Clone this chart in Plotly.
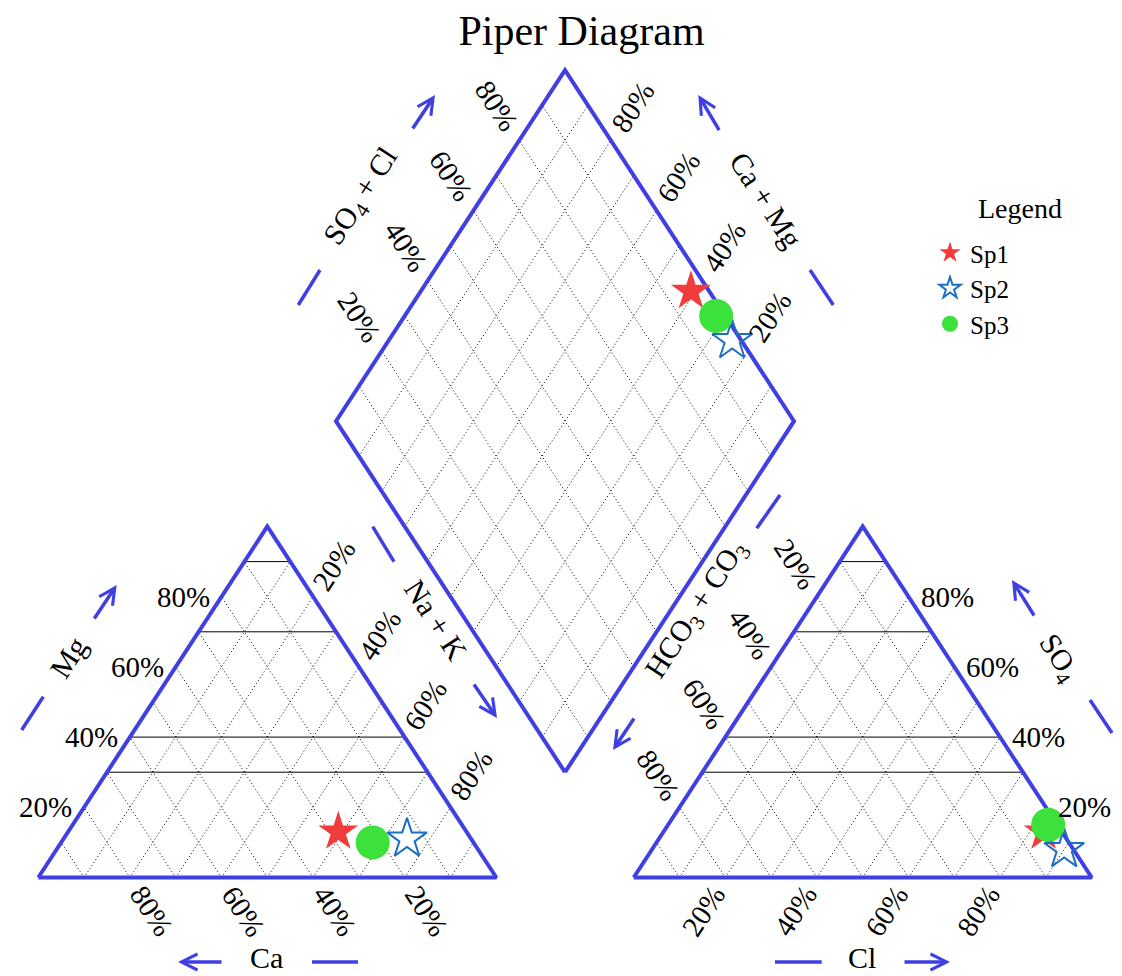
import math
import plotly.graph_objects as go

# ---------------- data (percent of meq) ----------------
samples = ["Sp1", "Sp2", "Sp3"]
ca = [28, 14, 22]
mg = [13, 11, 10]
na_k = [59, 75, 68]
hco3_co3 = [4, 2, 2]
so4 = [13, 8, 15]
cl = [83, 90, 83]

tick_values = [20, 40, 60, 80]
tick_labels = ["20%", "40%", "60%", "80%"]
grid_steps = [10, 20, 30, 40, 50, 60, 70, 80, 90]
solid_levels = [30, 40, 70, 90]

# ---------------- styles ----------------
marker_symbols = ["star", "star-open", "circle"]
marker_colors = ["#f03c3c", "#1c6fc3", "#3ce13c"]
marker_sizes = [30, 30, 34]
EDGE = "#3f3fe3"
FONT = "Liberation Serif"

# ---------------- geometry ----------------
W, H = 1122, 976
X0, SX = 38.3, 458.0      # pixel of x=0, pixels per unit
Y0, SY = 877.5, 405.3     # pixel of y=0, pixels per unit
h = math.sqrt(3) / 2
g = 0.3                   # gap between triangles
OX_A = 1 + g              # anion triangle origin
BX, BY = 1 + g / 2, g * h  # diamond bottom vertex

ddx, ddy = 0.5 * SX, h * SY
dl = math.hypot(ddx, ddy)
ux, uy = ddx / dl, ddy / dl
ANG = math.degrees(math.atan2(ddy, ddx))


def px(xp, yp):
    return xp / W, 1 - yp / H


def cation_xy(c, m, n):
    t = c + m + n
    return n / t + 0.5 * m / t, h * m / t


def anion_xy(hc, s, c):
    t = hc + s + c
    return OX_A + c / t + 0.5 * s / t, h * s / t


def diamond_xy(camg, so4cl):
    return BX + 0.5 * (so4cl - camg), BY + h * (camg + so4cl)


fig = go.Figure()

# ---------------- grid lines ----------------
gx, gy = [], []
for ox in (0.0, OX_A):
    for st in grid_steps:
        f = st / 100
        gx += [ox + f, ox + f + 0.5 * (1 - f), None]
        gy += [0, h * (1 - f), None]
        gx += [ox + f, ox + f / 2, None]
        gy += [0, h * f, None]
for st in grid_steps:
    f = st / 100
    sx0, sy0 = diamond_xy(f, 0)
    sx1, sy1 = diamond_xy(f, 1)
    gx += [sx0, sx1, None]
    gy += [sy0, sy1, None]
    sx0, sy0 = diamond_xy(0, f)
    sx1, sy1 = diamond_xy(1, f)
    gx += [sx0, sx1, None]
    gy += [sy0, sy1, None]
fig.add_trace(go.Scatter(x=gx, y=gy, mode="lines", hoverinfo="skip", showlegend=False,
                         line=dict(color="black", width=1, dash="1px,2.5px")))

hx, hy = [], []
for ox in (0.0, OX_A):
    for lv in solid_levels:
        f = lv / 100
        hx += [ox + 0.5 * f, ox + 1 - 0.5 * f, None]
        hy += [h * f, h * f, None]
fig.add_trace(go.Scatter(x=hx, y=hy, mode="lines", hoverinfo="skip", showlegend=False,
                         line=dict(color="black", width=1)))

# ---------------- outlines ----------------
ex, ey = [], []
for ox in (0.0, OX_A):
    ex += [ox, ox + 1, ox + 0.5, ox, None]
    ey += [0, 0, h, 0, None]
for cm, sc in [(0, 0), (1, 0), (1, 1), (0, 1), (0, 0)]:
    a, b = diamond_xy(cm, sc)
    ex.append(a)
    ey.append(b)
fig.add_trace(go.Scatter(x=ex, y=ey, mode="lines", hoverinfo="skip", showlegend=False,
                         line=dict(color=EDGE, width=4)))

# ---------------- samples ----------------
for i, name in enumerate(samples):
    cx, cy = cation_xy(ca[i], mg[i], na_k[i])
    axp, ayp = anion_xy(hco3_co3[i], so4[i], cl[i])
    camg = (ca[i] + mg[i]) / (ca[i] + mg[i] + na_k[i])
    so4cl = (so4[i] + cl[i]) / (hco3_co3[i] + so4[i] + cl[i])
    dx, dy = diamond_xy(camg, so4cl)
    fig.add_trace(go.Scatter(
        x=[cx, axp, dx], y=[cy, ayp, dy], mode="markers", name=name,
        marker=dict(symbol=marker_symbols[i], size=marker_sizes[i], color=marker_colors[i],
                    line=dict(width=2 if "open" in marker_symbols[i] else 0,
                              color=marker_colors[i]))))

# ---------------- tick labels ----------------
ann = []
TF = dict(family=FONT, size=29, color="black")


def tick(x, y, text, angle=0, xs=0.0, ys=0.0, xanchor="center"):
    ann.append(dict(x=x, y=y, xref="x", yref="y", text=text, showarrow=False,
                    textangle=angle, xshift=xs, yshift=ys, xanchor=xanchor,
                    yanchor="middle", font=TF))


for v, lab in zip(tick_values, tick_labels):
    f = v / 100
    tick(0.5 * f, h * f, lab, 0, -10, 0, "right")                       # Mg
    tick(f + 0.5 * (1 - f), h * (1 - f), lab, -ANG, 38 * ux, 38 * uy)   # Na+K
    tick(1 - f, 0, lab, ANG, 40 * ux, -40 * uy)                         # Ca
    tick(OX_A + (1 - f) + 0.5 * f, h * f, lab, 0, 10, 0, "left")        # SO4
    tick(OX_A + 0.5 * (1 - f), h * (1 - f), lab, ANG, -39 * ux, 39 * uy)  # HCO3+CO3
    tick(OX_A + f, 0, lab, -ANG, -40 * ux, -40 * uy)                    # Cl
    a, b = diamond_xy(1, f)
    tick(a, b, lab, ANG, -41 * ux, 41 * uy)                             # SO4+Cl
    a, b = diamond_xy(f, 1)
    tick(a, b, lab, -ANG, 40 * ux, 40 * uy)                             # Ca+Mg

# ---------------- axis names ----------------
NF = dict(family=FONT, size=30, color="black")
names = [
    ("Mg", 68, 657, -ANG),
    ("Ca", 266.7, 957, 0),
    ("Na + K", 436.7, 620, ANG),
    ("Cl", 861.7, 957, 0),
    ("SO<sub>4</sub>", 1058, 658, ANG),
    ("HCO<sub>3</sub> + CO<sub>3</sub>", 696.7, 610, -ANG),
    ("SO<sub>4</sub> + Cl", 361.7, 196.7, -ANG),
    ("Ca + Mg", 766.7, 200, ANG),
]
for text, xp, yp, angle in names:
    x, y = px(xp, yp)
    ann.append(dict(x=x, y=y, xref="paper", yref="paper", text=text, showarrow=False,
                    textangle=angle, xanchor="center", yanchor="middle", font=NF))

# arrows: (tail, head) in pixels
arrows = [
    ((93.3, 620), (116.7, 585)),
    ((223, 962), (178, 962)),
    ((473, 683), (497, 718)),
    ((903, 962), (950, 962)),
    ((1035, 617), (1012, 580)),
    ((635, 717), (613, 750)),
    ((411.7, 130), (435, 95)),
    ((720, 131.7), (698.3, 95)),
]
for (tx, ty), (hx_, hy_) in arrows:
    x, y = px(hx_, hy_)
    ann.append(dict(x=x, y=y, xref="paper", yref="paper", text="", showarrow=True,
                    ax=tx - hx_, ay=ty - hy_, arrowhead=5, arrowsize=0.9,
                    arrowwidth=3.5, arrowcolor=EDGE, standoff=0))

dashes = [
    ((21.7, 730), (43.3, 696.7)),
    ((312, 962), (358, 962)),
    ((372.7, 526.7), (394, 561.7)),
    ((775, 962), (821.7, 962)),
    ((1090, 700), (1112, 733)),
    ((756.7, 528.3), (780, 495)),
    ((298.3, 305), (320, 270)),
    ((810, 270), (833.3, 305)),
]
shapes = []
for (x1p, y1p), (x2p, y2p) in dashes:
    a1, b1 = px(x1p, y1p)
    a2, b2 = px(x2p, y2p)
    shapes.append(dict(type="line", xref="paper", yref="paper", x0=a1, y0=b1, x1=a2, y1=b2,
                       line=dict(color=EDGE, width=3.5)))

# legend heading
lx, ly = px(1020, 208)
ann.append(dict(x=lx, y=ly, xref="paper", yref="paper", text="Legend", showarrow=False,
                xanchor="center", yanchor="middle",
                font=dict(family=FONT, size=28, color="black")))

fig.update_layout(
    width=W, height=H,
    margin=dict(l=0, r=0, t=0, b=0),
    paper_bgcolor="white", plot_bgcolor="white",
    title=dict(text="Piper Diagram", x=581.5 / W, y=1 - 30 / H, xanchor="center",
               yanchor="middle", font=dict(family=FONT, size=42, color="black")),
    xaxis=dict(range=[-X0 / SX, (W - X0) / SX], visible=False, fixedrange=True),
    yaxis=dict(range=[(Y0 - H) / SY, Y0 / SY], visible=False, fixedrange=True),
    annotations=ann,
    shapes=shapes,
    showlegend=True,
    legend=dict(x=930 / W, y=1 - 230 / H, xanchor="left", yanchor="top",
                bgcolor="rgba(0,0,0,0)", font=dict(family=FONT, size=25, color="black"),
                itemwidth=30, tracegroupgap=0),
)

fig.write_html("out.html", config={"displayModeBar": False},
               post_script="document.body.style.margin='0';")
